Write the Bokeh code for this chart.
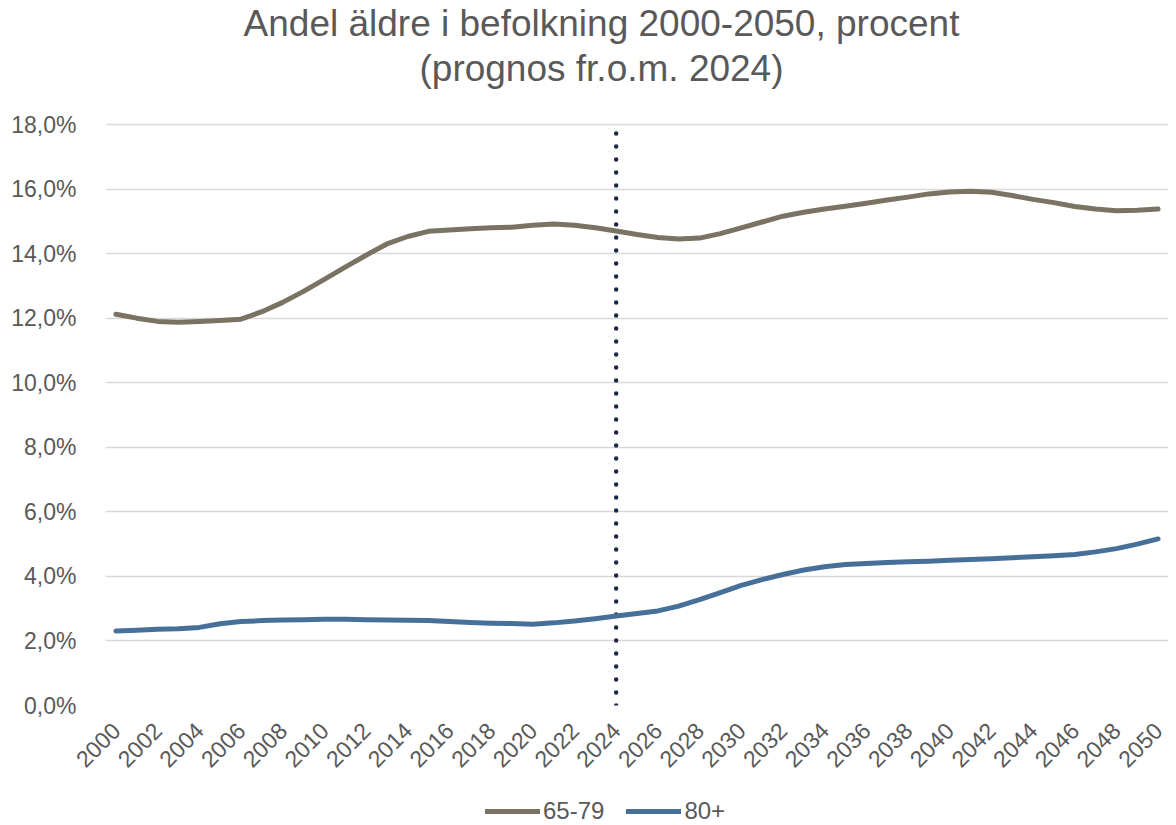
from math import pi
from bokeh.plotting import figure
from bokeh.layouts import column
from bokeh.models import (ColumnDataSource, FixedTicker, Legend, LegendItem,
                          Range1d, Label)
from bokeh.embed import file_html
from bokeh.resources import INLINE

# ---- data ----
years = list(range(2000, 2051))
share_65_79 = [12.12, 12.00, 11.90, 11.87, 11.90, 11.93, 11.97, 12.20, 12.49, 12.83,
               13.20, 13.58, 13.95, 14.30, 14.53, 14.69, 14.73, 14.77, 14.80, 14.82,
               14.88, 14.92, 14.88, 14.80, 14.70, 14.59, 14.50, 14.45, 14.48, 14.62,
               14.80, 14.98, 15.16, 15.28, 15.38, 15.47, 15.56, 15.66, 15.75, 15.85,
               15.91, 15.93, 15.90, 15.80, 15.68, 15.58, 15.46, 15.38, 15.33, 15.34,
               15.38]
share_80_plus = [2.31, 2.33, 2.36, 2.38, 2.42, 2.53, 2.60, 2.63, 2.65, 2.66,
                 2.67, 2.67, 2.66, 2.65, 2.64, 2.63, 2.60, 2.57, 2.55, 2.54,
                 2.52, 2.56, 2.62, 2.69, 2.77, 2.85, 2.93, 3.08, 3.28, 3.50,
                 3.72, 3.90, 4.06, 4.20, 4.30, 4.37, 4.40, 4.43, 4.45, 4.47,
                 4.50, 4.52, 4.55, 4.58, 4.61, 4.64, 4.68, 4.76, 4.86, 5.00,
                 5.16]
forecast_start = 2024
series_names = ["65-79", "80+"]
y_ticks = [0, 2, 4, 6, 8, 10, 12, 14, 16, 18]
y_tick_labels = ["0,0%", "2,0%", "4,0%", "6,0%", "8,0%", "10,0%", "12,0%",
                 "14,0%", "16,0%", "18,0%"]
x_ticks = list(range(2000, 2051, 2))
title_line1 = "Andel äldre i befolkning 2000-2050, procent"
title_line2 = "(prognos fr.o.m. 2024)"

# ---- layout (pixels) ----
W = 1176
H_MAIN, H_LEG = 785, 40
FRAME_L, FRAME_R = 105, 1168
GRID_TOP_PX, FRAME_B = 124, 705          # pixel rows of the 18 % and 0 % lines
px_per_unit = (FRAME_B - GRID_TOP_PX) / (y_ticks[-1] - y_ticks[0])
y_top = y_ticks[-1] + GRID_TOP_PX / px_per_unit   # frame reaches the top edge
x0, x1 = years[0] - 0.5, years[-1] + 0.5
px_per_year = (FRAME_R - FRAME_L) / (x1 - x0)


def xd(px):
    return x0 + (px - FRAME_L) / px_per_year


def yd(py):
    return (FRAME_B - py) / px_per_unit


FONT = "Liberation Sans"
TXT = "#595959"
C1 = "#7a7262"
C2 = "#46709a"
LINE_KW = dict(line_width=5, line_cap="round", line_join="round")

src = ColumnDataSource(dict(year=years, a=share_65_79, b=share_80_plus))

p = figure(width=W, height=H_MAIN, output_backend="svg", toolbar_location=None,
           title=None,
           x_range=Range1d(x0, x1), y_range=Range1d(y_ticks[0], y_top),
           min_border_left=FRAME_L, min_border_right=W - FRAME_R,
           min_border_top=0, min_border_bottom=H_MAIN - FRAME_B)
p.outline_line_color = None
p.background_fill_color = "white"
p.border_fill_color = "white"

# title lines (inside the upper part of the frame)
for txt, base_px in ((title_line1, 23), (title_line2, 68)):
    p.add_layout(Label(x=xd(601), y=yd(base_px), text=txt, text_align="center",
                       text_baseline="alphabetic", text_font=FONT,
                       text_font_size="37px", text_color=TXT))

# grid
p.xgrid.grid_line_color = None
p.ygrid.ticker = FixedTicker(ticks=y_ticks)
p.ygrid.grid_line_color = "#d9d9d9"
p.ygrid.grid_line_width = 1.5

# axes
p.yaxis.ticker = FixedTicker(ticks=y_ticks)
p.yaxis.major_label_overrides = {t: l for t, l in zip(y_ticks, y_tick_labels)}
p.xaxis.ticker = FixedTicker(ticks=x_ticks)
p.xaxis.major_label_overrides = {t: str(t) for t in x_ticks}
p.xaxis.major_label_orientation = pi / 4
for ax in (p.xaxis, p.yaxis):
    ax.axis_line_color = None
    ax.major_tick_line_color = None
    ax.minor_tick_line_color = None
    ax.major_label_text_font = FONT
    ax.major_label_text_font_size = "23px"
    ax.major_label_text_color = TXT
p.yaxis.major_label_standoff = 23
p.xaxis.major_label_standoff = 15

# forecast marker line
p.line(x=[forecast_start, forecast_start], y=[y_ticks[0], y_ticks[-1]],
       line_color="#1c2a48", line_width=4.5, line_dash="0 13", line_cap="round")

p.line("year", "a", source=src, line_color=C1, **LINE_KW)
p.line("year", "b", source=src, line_color=C2, **LINE_KW)

# ---- legend strip below the chart (its frame is aligned with the chart's) ----
p2 = figure(width=W, height=H_LEG, output_backend="svg", toolbar_location=None,
            title=None, x_axis_location=None, y_axis_location=None,
            x_range=Range1d(0, W), y_range=Range1d(0, H_LEG),
            min_border=0)
p2.outline_line_color = None
p2.grid.visible = False
p2.background_fill_color = "white"
p2.border_fill_color = "white"
# legend renderers: same series; the strip's ranges keep their lines off-view
l1 = p2.line("year", "a", source=src, line_color=C1, **LINE_KW)
l2 = p2.line("year", "b", source=src, line_color=C2, **LINE_KW)

legend = Legend(items=[LegendItem(label=series_names[0], renderers=[l1]),
                       LegendItem(label=series_names[1], renderers=[l2])],
                orientation="horizontal", location=(485 - FRAME_L, 0),
                glyph_width=55, glyph_height=24, label_standoff=3, spacing=22,
                padding=0, margin=0, border_line_color=None,
                background_fill_alpha=0,
                label_text_font=FONT, label_text_font_size="24px",
                label_text_color=TXT, label_height=24)
p2.add_layout(legend)

layout = column(p, p2, spacing=0)
open("out.html", "w").write(file_html(layout, INLINE))
